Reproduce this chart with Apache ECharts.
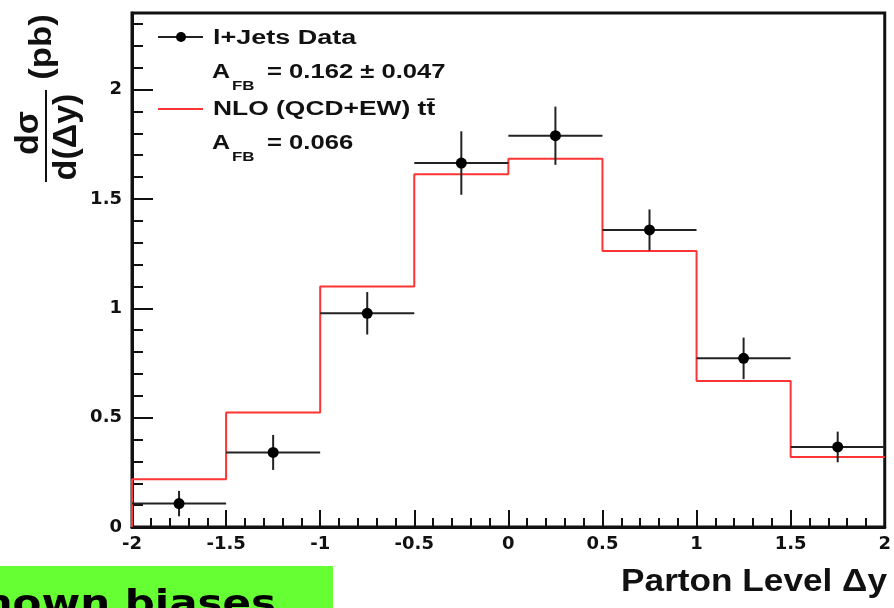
<!DOCTYPE html>
<html>
<head>
<meta charset="utf-8">
<script src="https://cdn.jsdelivr.net/npm/echarts@6/dist/echarts.min.js"></script>
<style>
  html, body { margin: 0; padding: 0; background: #fff; }
  #chart { width: 894px; height: 608px; }
</style>
</head>
<body>
<div id="chart"></div>
<script>
// Bin edges of the parton-level Δy distribution
const binEdges = [-2, -1.5, -1, -0.5, 0, 0.5, 1, 1.5, 2];
// l+Jets data: dσ/d(Δy) per bin and its uncertainty (pb)
const dataValues = [0.107, 0.341, 0.977, 1.664, 1.789, 1.358, 0.771, 0.366];
const dataErrors = [0.058, 0.080, 0.097, 0.145, 0.133, 0.094, 0.095, 0.070];
// NLO (QCD+EW) prediction per bin (pb)
const nloValues = [0.218, 0.524, 1.099, 1.613, 1.684, 1.262, 0.668, 0.320];
// Axis ticks
const xTicks = [-2, -1.5, -1, -0.5, 0, 0.5, 1, 1.5, 2];
const yTickLabels = ['0', '0.5', '1', '1.5', '2'];

const FONT = 'Liberation Sans';
const INK = '#111';
const RED = '#ff3535';

// step outline of the prediction, starting from zero at the left edge
const nloStep = [[binEdges[0], 0]];
nloValues.forEach((v, i) => nloStep.push([binEdges[i], v]));
nloStep.push([binEdges[binEdges.length - 1], nloValues[nloValues.length - 1]]);

const dataPoints = dataValues.map((v, i) => [binEdges[i], binEdges[i + 1], v, dataErrors[i]]);

const chart = echarts.init(document.getElementById('chart'), null, { renderer: 'canvas' });

const yLabelFmt = v => {
  if (Math.abs(v * 2 - Math.round(v * 2)) > 1e-6) return '';
  const idx = Math.round(v * 2);
  return idx < yTickLabels.length ? yTickLabels[idx] : '';
};

const legendText = (x, y, text, size, scale) => ({
  type: 'text', x: x, y: y, scaleX: scale,
  style: { text: text, font: 'bold ' + size + 'px ' + FONT, fill: INK, textVerticalAlign: 'middle' }
});

const option = {
  animation: false,
  backgroundColor: '#fff',
  grid: {
    left: 132, right: 6, top: 13, bottom: 81,
    show: true, borderColor: INK, borderWidth: 3, backgroundColor: 'transparent'
  },
  xAxis: {
    type: 'value', min: xTicks[0], max: xTicks[xTicks.length - 1], interval: 0.5,
    axisLine: { show: true, onZero: false, lineStyle: { color: INK, width: 3 } },
    axisTick: { show: true, inside: true, length: 17, lineStyle: { color: INK, width: 2 } },
    minorTick: { show: true, splitNumber: 5, length: 9, lineStyle: { color: INK, width: 2 } },
    splitLine: { show: false },
    axisLabel: {
      color: INK, fontFamily: 'DejaVu Sans', fontWeight: 'bold', fontSize: 18, margin: 8,
      formatter: v => String(v)
    }
  },
  yAxis: [
    {
      type: 'value', min: 0, max: 2.35, interval: 0.5,
      axisLine: { show: true, onZero: false, lineStyle: { color: INK, width: 3 } },
      axisTick: { show: true, inside: true, length: 21, lineStyle: { color: INK, width: 2 } },
      splitLine: { show: false },
      axisLabel: {
        color: INK, fontFamily: 'DejaVu Sans', fontWeight: 'bold', fontSize: 18, margin: 10,
        showMaxLabel: false, formatter: yLabelFmt
      }
    },
    {
      // minor ticks every 0.1
      type: 'value', min: 0, max: 2.35, interval: 0.1, position: 'left', offset: 0,
      axisLine: { show: false, onZero: false },
      axisTick: { show: true, inside: true, length: 11, lineStyle: { color: INK, width: 2 } },
      splitLine: { show: false },
      axisLabel: { show: false }
    }
  ],
  series: [
    {
      name: 'NLO (QCD+EW) tt',
      type: 'line', step: 'end', data: nloStep, symbol: 'none',
      lineStyle: { color: RED, width: 2 }, z: 2
    },
    {
      name: 'l+Jets Data',
      type: 'custom', data: dataPoints, z: 3,
      renderItem: (params, api) => {
        const lo = api.value(0), hi = api.value(1), y = api.value(2), e = api.value(3);
        const c = (lo + hi) / 2;
        const pL = api.coord([lo, y]), pR = api.coord([hi, y]);
        const pT = api.coord([c, y + e]), pB = api.coord([c, y - e]);
        const pC = api.coord([c, y]);
        const st = { stroke: '#222', lineWidth: 2 };
        return {
          type: 'group',
          children: [
            { type: 'line', shape: { x1: pL[0], y1: pL[1], x2: pR[0], y2: pR[1] }, style: st },
            { type: 'line', shape: { x1: pT[0], y1: pT[1], x2: pB[0], y2: pB[1] }, style: st },
            { type: 'circle', shape: { cx: pC[0], cy: pC[1], r: 5.5 }, style: { fill: '#000' } }
          ]
        };
      }
    }
  ],
  graphic: [
    // legend
    { type: 'line', shape: { x1: 158, y1: 37, x2: 203, y2: 37 }, style: { stroke: '#222', lineWidth: 2 } },
    { type: 'circle', shape: { cx: 181, cy: 37, r: 5 }, style: { fill: '#000' } },
    legendText(213, 38, 'l+Jets Data', 20, 1.35),
    legendText(212, 72, 'A', 20, 1.25),
    legendText(232, 86, 'FB', 13, 1.3),
    legendText(267, 72, '= 0.162 \u00b1 0.047', 20, 1.28),
    { type: 'line', shape: { x1: 158, y1: 109, x2: 203, y2: 109 }, style: { stroke: RED, lineWidth: 2 } },
    legendText(213, 109, 'NLO (QCD+EW) tt\u0304', 20, 1.32),
    legendText(212, 143, 'A', 20, 1.25),
    legendText(232, 157, 'FB', 13, 1.3),
    legendText(267, 143, '= 0.066', 20, 1.28),

    // y-axis title: dσ / d(Δy) (pb)
    { type: 'text', x: 29, y: 133, rotation: Math.PI / 2,
      style: { text: 'd\u03c3', font: 'bold 34px ' + FONT, fill: INK, textAlign: 'center', textVerticalAlign: 'middle' } },
    { type: 'line', shape: { x1: 46, y1: 90, x2: 46, y2: 182 }, style: { stroke: INK, lineWidth: 2 } },
    { type: 'text', x: 67, y: 137, rotation: Math.PI / 2,
      style: { text: 'd(\u0394y)', font: 'bold 34px ' + FONT, fill: INK, textAlign: 'center', textVerticalAlign: 'middle' } },
    { type: 'text', x: 42, y: 47, rotation: Math.PI / 2, scaleX: 1.12,
      style: { text: '(pb)', font: 'bold 31px ' + FONT, fill: INK, textAlign: 'center', textVerticalAlign: 'middle' } },

    // x-axis title
    { type: 'text', x: 887, y: 598, scaleX: 1.1,
      style: { text: 'Parton Level \u0394y', font: 'bold 32px ' + FONT, fill: INK, textAlign: 'right', textVerticalAlign: 'bottom' } },

    // highlighted note at the bottom
    { type: 'rect', shape: { x: 0, y: 566, width: 333, height: 42 }, style: { fill: '#66ff33' } },
    { type: 'text', x: 276, y: 606, scaleX: 1.2,
      style: { text: 'known biases', font: 'bold 35px "DejaVu Sans"', fill: '#000', textAlign: 'right', textVerticalAlign: 'middle' } }
  ]
};

chart.setOption(option);
</script>
</body>
</html>
